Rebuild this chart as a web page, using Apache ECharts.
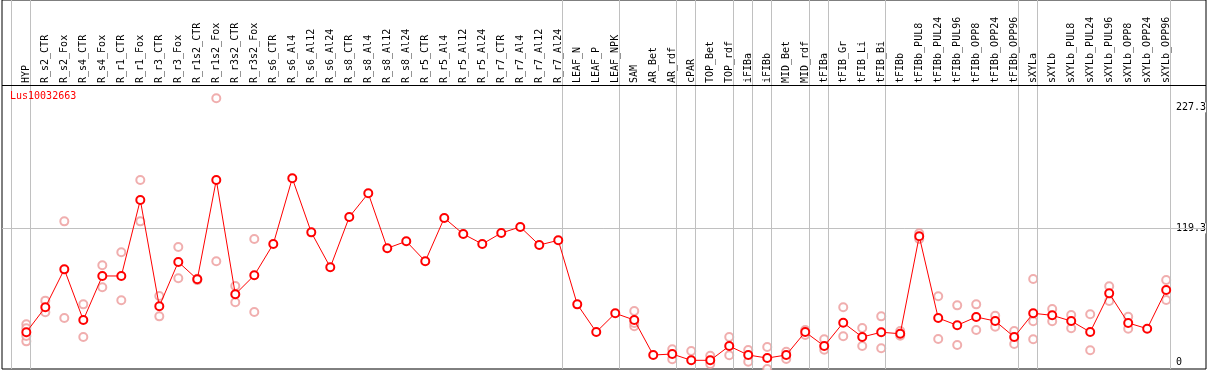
<!DOCTYPE html>
<html>
<head>
<meta charset="utf-8">
<script src="https://cdn.jsdelivr.net/npm/echarts@6/dist/echarts.min.js"></script>
<style>
  html, body { margin: 0; padding: 0; background: #fff; }
  #chart { width: 1209px; height: 370px; }
</style>
</head>
<body>
<div id="chart"></div>
<script>
// 样本名称
const categories = [
  'HYP', 'R_s2_CTR', 'R_s2_Fox', 'R_s4_CTR', 'R_s4_Fox', 'R_r1_CTR', 'R_r1_Fox', 'R_r3_CTR', 'R_r3_Fox',
  'R_r1s2_CTR', 'R_r1s2_Fox', 'R_r3s2_CTR', 'R_r3s2_Fox', 'R_s6_CTR', 'R_s6_Al4', 'R_s6_Al12', 'R_s6_Al24',
  'R_s8_CTR', 'R_s8_Al4', 'R_s8_Al12', 'R_s8_Al24', 'R_r5_CTR', 'R_r5_Al4', 'R_r5_Al12', 'R_r5_Al24',
  'R_r7_CTR', 'R_r7_Al4', 'R_r7_Al12', 'R_r7_Al24', 'LEAF_N', 'LEAF_P', 'LEAF_NPK', 'SAM', 'AR_Bet', 'AR_rdf',
  'cPAR', 'TOP_Bet', 'TOP_rdf', 'iFIBa', 'iFIBb', 'MID_Bet', 'MID_rdf', 'tFIBa', 'tFIB_Gr', 'tFIB_Li', 'tFIB_Bi',
  'tFIBb', 'tFIBb_PUL8', 'tFIBb_PUL24', 'tFIBb_PUL96', 'tFIBb_OPP8', 'tFIBb_OPP24', 'tFIBb_OPP96',
  'sXYLa', 'sXYLb', 'sXYLb_PUL8', 'sXYLb_PUL24', 'sXYLb_PUL96', 'sXYLb_OPP8', 'sXYLb_OPP24', 'sXYLb_OPP96'
];

// 平均值（红线）
const meanValues = [
  26.7, 49.0, 82.8, 37.6, 76.9, 76.9, 144.7, 49.9, 89.4, 73.9, 162.5, 60.6, 77.5,
  105.4, 164.0, 115.8, 84.6, 129.5, 150.6, 101.6, 107.8, 90.0, 128.6, 114.3, 105.4,
  115.2, 120.6, 104.5, 108.7, 51.6, 26.9, 43.6, 37.6, 6.4, 7.3, 1.7, 1.7, 14.4,
  6.4, 3.7, 6.4, 26.9, 14.4, 35.2, 22.5, 26.7, 25.4, 112.3, 39.4, 32.9, 40.3,
  36.7, 22.5, 43.6, 41.8, 36.7, 26.9, 61.4, 35.0, 29.9, 64.4
];

// 重复样本（粉色圆圈）
const rep1 = [
  33.8, 54.9, 125.6, 51.6, 86.4, 98.0, 162.5, 59.0, 102.7, 74.5, 235.4, 68.0, 109.9,
  null, null, null, null, null, null, null, null, null, null, null, null,
  null, null, null, null, null, null, null, 45.7, null, 11.5, 10.0, 5.8, 22.5,
  10.9, 13.6, 9.4, 28.7, 20.4, 49.0, 30.5, 40.9, 27.8, 115.0, 58.8, 50.7, 51.6,
  41.5, 27.8, 74.2, 47.4, 42.1, 42.7, 67.7, 40.6, null, 73.3
];
const rep2 = [
  18.6, 44.5, 39.4, 22.5, 66.8, 55.2, 125.6, 40.9, 74.8, 73.2, 90.0, 53.4, 44.8,
  null, null, null, null, null, null, null, null, null, null, null, null,
  null, null, null, null, null, null, null, 32.0, null, 2.6, -6.3, -1.6, 6.2,
  0.5, -6.0, 2.9, 24.3, 11.1, 23.1, 14.4, 12.4, 23.6, 109.9, 20.7, 15.3, 28.7,
  31.7, 16.2, 20.4, 36.5, 30.2, 10.6, 54.6, 29.9, null, 55.5
];
const rep3 = [30.2];
rep3[32] = 35.0;
rep3[53] = 36.5;
const rep4 = [23.4];

// 分组分隔线（在该索引之后）
const groupEnds = [-1, 0, 28, 31, 34, 35, 37, 38, 39, 41, 42, 45, 52, 53, 60];
const yLabels = [0, 119.3, 227.3];

const FONT = 'DejaVu Sans Mono';
const xMin = -1.28, xMax = 62.09;

const toPairs = (arr) => arr.map((v, i) => [i, v]).filter(p => p[1] !== null && p[1] !== undefined);
const sepLines = groupEnds.map(i => ({ xAxis: i + 0.23 }));

const chart = echarts.init(document.getElementById('chart'));

const repSeries = [rep1, rep2, rep3, rep4].map((r, k) => ({
  name: 'rep' + k,
  type: 'scatter',
  xAxisIndex: 1,
  yAxisIndex: 1,
  symbol: 'emptyCircle',
  symbolSize: 8,
  itemStyle: { color: '#ec9a9a', borderColor: '#ec9a9a', borderWidth: 1.3 },
  z: 3,
  silent: true,
  data: toPairs(r)
}));

const option = {
  animation: false,
  backgroundColor: '#fff',
  title: {
    text: 'Lus10032663',
    left: 10,
    top: 91,
    padding: 0,
    textStyle: { color: '#ff0000', fontSize: 10, fontWeight: 'normal', fontFamily: FONT }
  },
  grid: [
    // 外框 + 表头分隔线
    { left: 2, right: 3, top: 0, height: 369, show: true, borderColor: '#000', borderWidth: 1, backgroundColor: 'transparent' },
    // 数据区
    { left: 2, right: 3, top: 85, height: 284, show: false }
  ],
  xAxis: [
    { gridIndex: 0, type: 'value', min: xMin, max: xMax, show: false },
    {
      gridIndex: 1, type: 'value', min: xMin, max: xMax, position: 'top',
      axisLine: { show: false }, axisTick: { show: false }, splitLine: { show: false },
      axisLabel: {
        customValues: categories.map((c, i) => i),
        formatter: (v) => categories[Math.round(v)] || '',
        rotate: 90, margin: 2, color: '#000', fontSize: 10, fontFamily: FONT
      }
    }
  ],
  yAxis: [
    { gridIndex: 0, type: 'value', min: 0, max: 369, inverse: true, show: false },
    {
      gridIndex: 1, type: 'value', min: -6.06, max: 247.2, position: 'right',
      axisLine: { show: false }, axisTick: { show: false }, splitLine: { show: false },
      axisLabel: {
        inside: true, margin: 30, align: 'left',
        customValues: yLabels,
        formatter: (v) => v === 0 ? '0' : v.toFixed(1),
        color: '#000', fontSize: 10, fontFamily: FONT,
        backgroundColor: '#fff'
      }
    }
  ],
  series: [
    {
      name: 'frame',
      type: 'line',
      xAxisIndex: 0,
      yAxisIndex: 0,
      data: [],
      silent: true,
      markLine: {
        silent: true, symbol: 'none', label: { show: false },
        data: [
          ...sepLines.map(d => ({ ...d, lineStyle: { color: '#c0c0c0', type: 'solid', width: 1 } })),
          { yAxis: 85, lineStyle: { color: '#000', type: 'solid', width: 1 } }
        ]
      }
    },
    ...repSeries,
    {
      name: 'Lus10032663',
      type: 'line',
      xAxisIndex: 1,
      yAxisIndex: 1,
      symbol: 'emptyCircle',
      symbolSize: 8,
      z: 5,
      lineStyle: { color: '#ff0000', width: 1 },
      itemStyle: { color: '#ff0000', borderColor: '#ff0000', borderWidth: 1.3 },
      data: toPairs(meanValues),
      markLine: {
        silent: true, symbol: 'none', label: { show: false },
        lineStyle: { color: '#c0c0c0', type: 'solid', width: 1 },
        z: 1,
        data: [{ yAxis: 119.3 }]
      }
    }
  ]
};

chart.setOption(option);
</script>
</body>
</html>
